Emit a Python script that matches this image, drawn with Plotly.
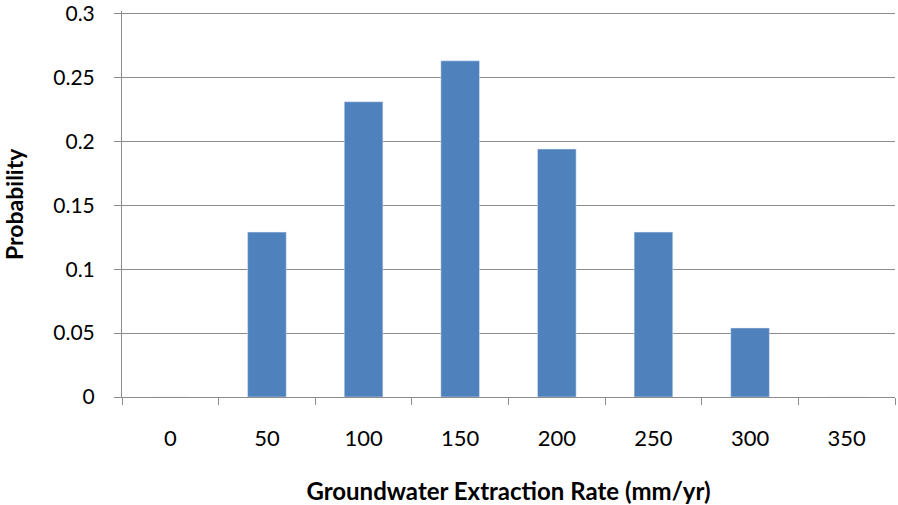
import plotly.graph_objects as go

# Probability distribution of groundwater extraction rate
rates = ["0", "50", "100", "150", "200", "250", "300", "350"]
probability = [0, 0.129, 0.231, 0.263, 0.194, 0.129, 0.054, 0]

y_ticks = [0, 0.05, 0.1, 0.15, 0.2, 0.25, 0.3]
y_tick_text = ["0", "0.05", "0.1", "0.15", "0.2", "0.25", "0.3"]

font_family = "Lato, Open Sans, sans-serif"
grid_grey = "#8c8c8c"

fig = go.Figure(
    go.Bar(
        x=rates,
        y=probability,
        marker=dict(color="#4F81BD"),
        hoverinfo="x+y",
    )
)

fig.update_layout(
    width=898,
    height=505,
    margin=dict(l=122, r=3, t=11, b=108),
    paper_bgcolor="white",
    plot_bgcolor="white",
    bargap=0.6,
    showlegend=False,
    font=dict(family=font_family, size=23, color="black"),
)

fig.update_xaxes(
    type="category",
    automargin=False,
    showline=True,
    linecolor=grid_grey,
    linewidth=1,
    ticks="outside",
    tickson="boundaries",
    ticklen=7,
    tickcolor=grid_grey,
    showgrid=False,
    tickfont=dict(size=22),
    ticklabelstandoff=22,
    title=dict(
        text="<b>Groundwater Extraction Rate (mm/yr)</b>",
        font=dict(size=24),
        standoff=33,
    ),
)

# small headroom above 0.3 so the top gridline is kept
fig.update_yaxes(
    range=[0, 0.302],
    automargin=False,
    tickvals=y_ticks,
    ticktext=y_tick_text,
    showline=True,
    linecolor=grid_grey,
    linewidth=1,
    ticks="outside",
    ticklen=7,
    tickcolor=grid_grey,
    showgrid=True,
    gridcolor=grid_grey,
    gridwidth=1,
    zeroline=False,
    tickfont=dict(size=21),
    ticklabelstandoff=15,
    ticklabeloverflow="allow",
)

fig.add_annotation(
    text="<b>Probability</b>",
    xref="paper",
    yref="paper",
    x=0,
    y=0.5,
    xshift=-108,
    textangle=-90,
    showarrow=False,
    font=dict(size=23),
    xanchor="center",
    yanchor="middle",
)

fig.write_html("out.html")
